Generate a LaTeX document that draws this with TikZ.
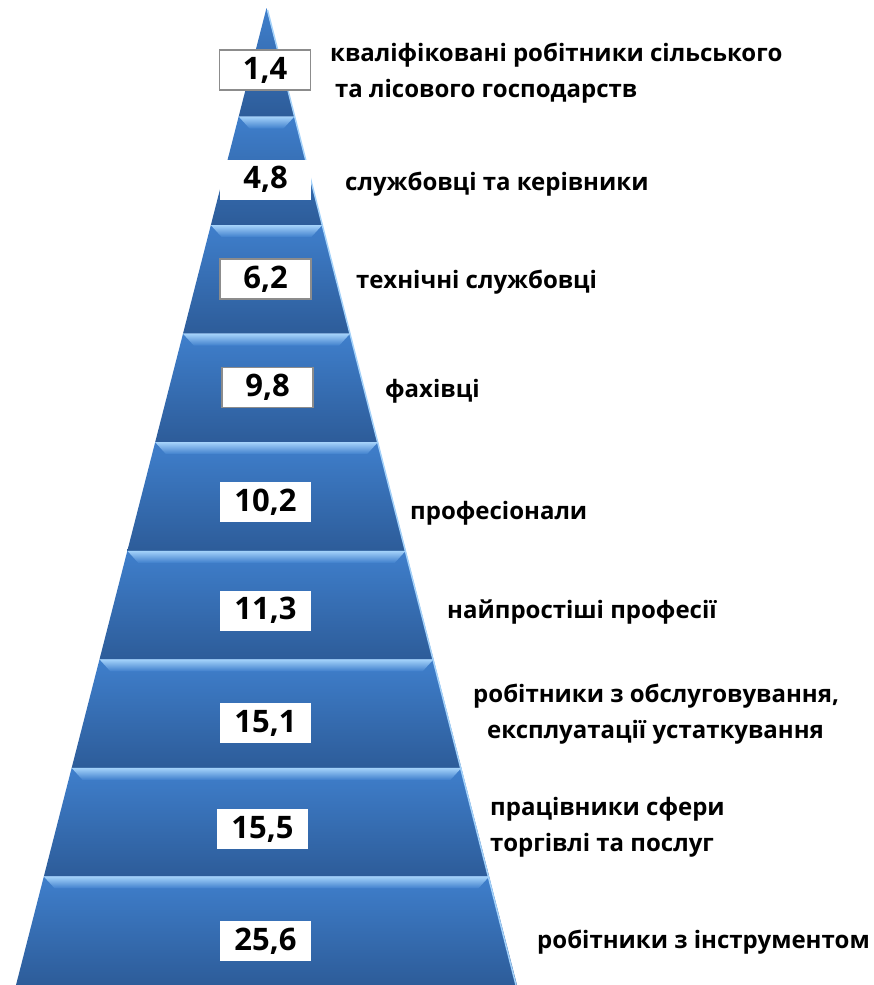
\documentclass[tikz,border=0pt]{standalone}
\usepackage{fontspec}
\setmainfont{Open Sans}
\usetikzlibrary{positioning}
\definecolor{pyrtop}{HTML}{3F7FCC}
\definecolor{pyrbot}{HTML}{2D5C99}
\definecolor{pyrhl}{HTML}{A4D2FA}
\definecolor{boxline}{HTML}{8C8C8C}
\tikzset{
  valbox/.style={fill=white, minimum width=91pt, minimum height=40pt, inner sep=0pt,
    font=\fontsize{31}{31}\selectfont\bfseries},
  valframe/.style={valbox, draw=boxline, line width=1.2pt},
  lbl/.style={anchor=west, align=left, inner sep=0pt,
    font=\fontsize{24}{36}\selectfont\bfseries},
}
\begin{document}
\begin{tikzpicture}[x=1pt,y=-1pt]
  \useasboundingbox (0,0) rectangle (873,985);
  % pyramid layers
  \foreach \i in {1,...,9}{
    \pgfmathsetmacro{\yt}{8+(\i-1)*108.56}
    \pgfmathsetmacro{\yb}{8+\i*108.56}
    \pgfmathsetmacro{\wt}{(\yt-8)*0.2564}
    \pgfmathsetmacro{\wb}{(\yb-8)*0.2564}
    \shade[top color=pyrtop, bottom color=pyrbot]
      (266.5-\wt,\yt) -- (266.5+\wt,\yt) -- (266.5+\wb,\yb) -- (266.5-\wb,\yb) -- cycle;
  }
  % bevel highlights
  \foreach \i in {2,...,9}{
    \pgfmathsetmacro{\yt}{8+(\i-1)*108.56}
    \pgfmathsetmacro{\yh}{\yt+12}
    \pgfmathsetmacro{\wt}{(\yt-8)*0.2564}
    \pgfmathsetmacro{\wh}{(\yh-8)*0.2564}
    \shade[top color=pyrhl, bottom color=pyrtop]
      (266.5-\wt,\yt) -- (266.5+\wt,\yt) -- (266.5+\wh-14,\yh) -- (266.5-\wh+14,\yh) -- cycle;
  }
  \draw[pyrhl, line width=1.5pt] (267.5,10) -- (516,985);

  % values
  \node[valframe] (v1) at (265,70) {1,4};
  \node[valbox] (v2) at (265.5,179.5) {4,8};
  \node[valframe] (v3) at (265.5,279) {6,2};
  \node[valframe] (v4) at (267.5,387.5) {9,8};
  \node[valbox] (v5) at (265.5,502) {10,2};
  \node[valbox] (v6) at (265.5,610.5) {11,3};
  \node[valbox] (v7) at (265.5,723) {15,1};
  \node[valbox] (v8) at (262.5,829) {15,5};
  \node[valbox] (v9) at (265.5,941) {25,6};

  % labels
  \node[lbl] (l1) at (330,73) {кваліфіковані робітники сільського\\\hspace{5pt}та лісового господарств};
  \node[lbl] (l2) at (345,184) {службовці та керівники};
  \node[lbl] (l3) at (356,282) {технічні службовці};
  \node[lbl] (l4) at (385,391) {фахівці};
  \node[lbl] (l5) at (410,513) {професіонали};
  \node[lbl] (l6) at (447,612) {найпростіші професії};
  \node[lbl] (l7) at (473,714) {робітники з обслуговування,\\\hspace{14pt}експлуатації устаткування};
  \node[lbl] (l8) at (490,827) {працівники сфери\\торгівлі та послуг};
  \node[lbl] (l9) at (537,942) {робітники з інструментом};
\end{tikzpicture}
\end{document}
